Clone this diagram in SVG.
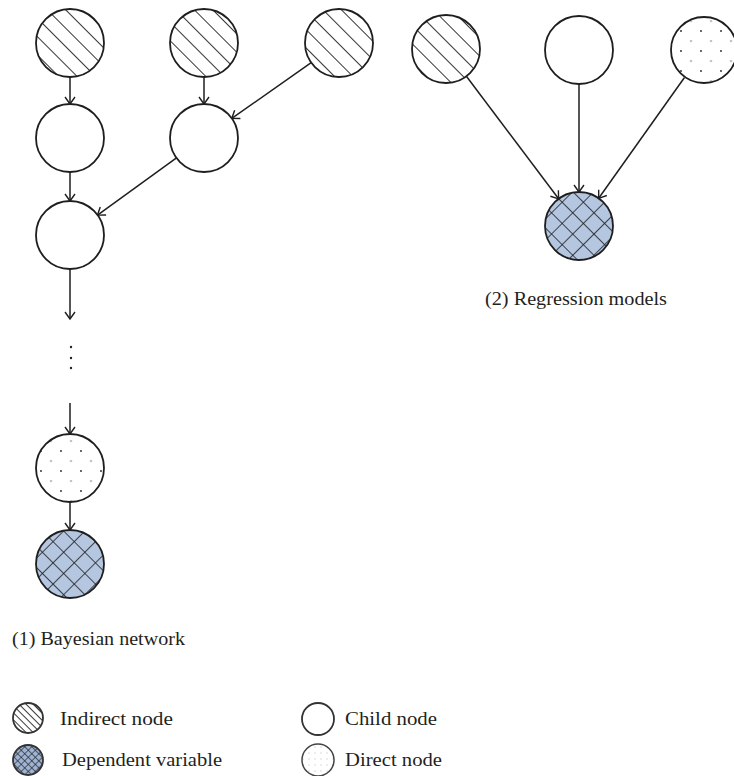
<svg xmlns="http://www.w3.org/2000/svg" width="734" height="776" viewBox="0 0 734 776">
<style>
.node{stroke:#1e1e1e;stroke-width:1.8}
.edge{stroke:#1e1e1e;stroke-width:1.5;fill:none}
.lbl{font-family:"Liberation Serif",serif;font-size:18.5px;fill:#231f20}
</style>
<defs>
<pattern id="hatch" patternUnits="userSpaceOnUse" width="13" height="13" patternTransform="rotate(-45)">
<rect width="13" height="13" fill="#fff"/>
<line x1="0" y1="0" x2="0" y2="13" stroke="#1e1e1e" stroke-width="1.8"/>
</pattern>
<pattern id="hatchS" patternUnits="userSpaceOnUse" width="5" height="5" patternTransform="rotate(-45)">
<rect width="5" height="5" fill="#fff"/>
<line x1="0" y1="0" x2="0" y2="5" stroke="#222" stroke-width="1.8"/>
</pattern>
<pattern id="cross" patternUnits="userSpaceOnUse" width="15" height="15" patternTransform="rotate(45)">
<rect width="15" height="15" fill="#b4c6e0"/>
<line x1="0" y1="0" x2="0" y2="15" stroke="#1e1e1e" stroke-width="1.6"/>
<line x1="0" y1="0" x2="15" y2="0" stroke="#1e1e1e" stroke-width="1.6"/>
</pattern>
<pattern id="crossS" patternUnits="userSpaceOnUse" width="5" height="5" patternTransform="rotate(45)">
<rect width="5" height="5" fill="#9fb4d4"/>
<line x1="0" y1="0" x2="0" y2="5" stroke="#222" stroke-width="1.3"/>
<line x1="0" y1="0" x2="5" y2="0" stroke="#222" stroke-width="1.3"/>
</pattern>
<pattern id="dots" patternUnits="userSpaceOnUse" width="20" height="20" x="0" y="0">
<rect width="20" height="20" fill="#fff"/>
<circle cx="11" cy="1" r="1.3" fill="#c4c4c4"/>
<circle cx="1" cy="11" r="0.9" fill="#222"/>
</pattern>
<pattern id="dotsS" patternUnits="userSpaceOnUse" width="6" height="6">
<rect width="6" height="6" fill="#fff"/>
<circle cx="3" cy="3" r="0.8" fill="#d8d8d8"/>
</pattern>
<marker id="arr" markerUnits="userSpaceOnUse" markerWidth="16" markerHeight="16" refX="0" refY="0" viewBox="-9 -8 10 16" orient="auto">
<path d="M -7 -5 L 0 0 L -7 5" fill="none" stroke="#1e1e1e" stroke-width="1.4"/>
</marker>
</defs>

<g id="connectors">
<line class="edge" x1="70" y1="77" x2="70" y2="104" marker-end="url(#arr)"/>
<line class="edge" x1="204" y1="77" x2="204" y2="104" marker-end="url(#arr)"/>
<line class="edge" x1="311.2" y1="62.6" x2="231.8" y2="118.4" marker-end="url(#arr)"/>
<line class="edge" x1="70" y1="172" x2="70" y2="201" marker-end="url(#arr)"/>
<line class="edge" x1="176.5" y1="157.9" x2="97.5" y2="215.1" marker-end="url(#arr)"/>
<line class="edge" x1="70" y1="269" x2="70" y2="319" marker-end="url(#arr)"/>
<line class="edge" x1="70" y1="403" x2="70" y2="434" marker-end="url(#arr)"/>
<line class="edge" x1="70" y1="502" x2="70" y2="530" marker-end="url(#arr)"/>
<line class="edge" x1="466.4" y1="76.2" x2="558.6" y2="198.8" marker-end="url(#arr)"/>
<line class="edge" x1="579" y1="84" x2="579" y2="192" marker-end="url(#arr)"/>
<line class="edge" x1="684.3" y1="77.7" x2="598.7" y2="198.3" marker-end="url(#arr)"/>
</g>

<g id="ellipsis" fill="#222">
<circle cx="71" cy="347" r="1.2"/>
<circle cx="71" cy="358" r="1.2"/>
<circle cx="71" cy="368" r="1.2"/>
</g>

<g id="bn-indirect-1"><circle class="node" cx="70" cy="43" r="34" fill="url(#hatch)"/></g>
<g id="bn-indirect-2"><circle class="node" cx="204" cy="43" r="34" fill="url(#hatch)"/></g>
<g id="bn-indirect-3"><circle class="node" cx="339" cy="43" r="34" fill="url(#hatch)"/></g>
<g id="bn-child-1"><circle class="node" cx="70" cy="138" r="34" fill="#fff"/></g>
<g id="bn-child-2"><circle class="node" cx="204" cy="138" r="34" fill="#fff"/></g>
<g id="bn-child-3"><circle class="node" cx="70" cy="235" r="34" fill="#fff"/></g>
<g id="bn-direct"><circle class="node" cx="70" cy="468" r="34" fill="url(#dots)"/></g>
<g id="bn-dependent"><circle class="node" cx="70" cy="564" r="34" fill="url(#cross)"/></g>

<g id="rm-indirect"><circle class="node" cx="446" cy="49" r="34" fill="url(#hatch)"/></g>
<g id="rm-child"><circle class="node" cx="579" cy="50" r="34" fill="#fff"/></g>
<g id="rm-direct"><circle class="node" cx="704" cy="50" r="33" fill="url(#dots)"/></g>
<g id="rm-dependent"><circle class="node" cx="579" cy="226" r="34" fill="url(#cross)"/></g>

<text class="lbl" x="12" y="645" textLength="173" lengthAdjust="spacingAndGlyphs">(1) Bayesian network</text>
<text class="lbl" x="485" y="305" textLength="182" lengthAdjust="spacingAndGlyphs">(2) Regression models</text>

<g id="legend">
<circle cx="28" cy="718" r="15" fill="url(#hatchS)" stroke="#333" stroke-width="1.8"/>
<text class="lbl" x="60" y="725" textLength="113" lengthAdjust="spacingAndGlyphs">Indirect node</text>
<circle cx="28" cy="760" r="15" fill="url(#crossS)" stroke="#333" stroke-width="1.8"/>
<text class="lbl" x="62" y="766" textLength="160" lengthAdjust="spacingAndGlyphs">Dependent variable</text>
<circle cx="318" cy="719" r="16" fill="#fff" stroke="#333" stroke-width="1.8"/>
<text class="lbl" x="345" y="725" textLength="92" lengthAdjust="spacingAndGlyphs">Child node</text>
<circle cx="318" cy="760" r="16" fill="url(#dotsS)" stroke="#444" stroke-width="1.5"/>
<text class="lbl" x="345" y="766" textLength="97" lengthAdjust="spacingAndGlyphs">Direct node</text>
</g>
</svg>
